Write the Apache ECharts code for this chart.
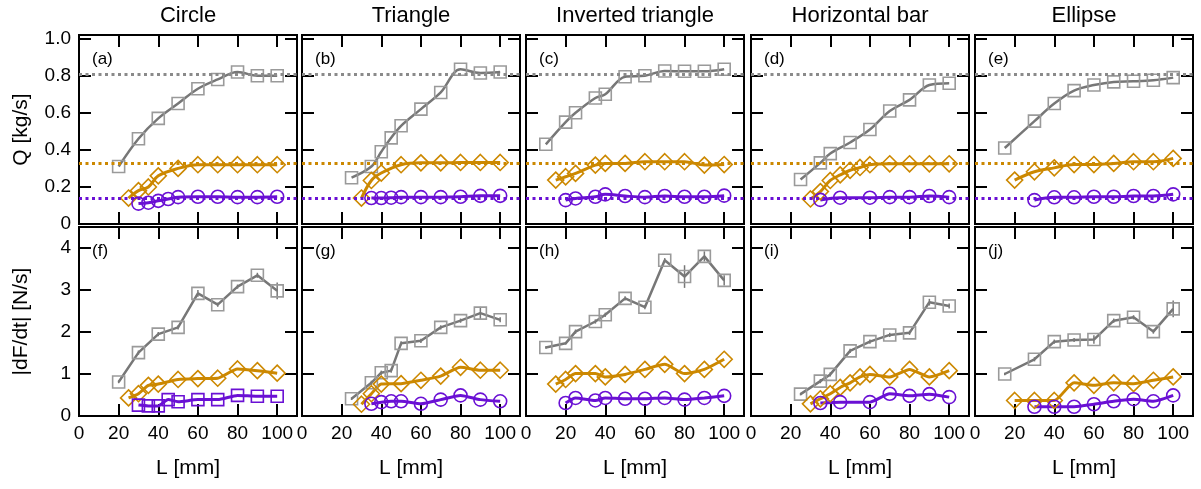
<!DOCTYPE html>
<html>
<head>
<meta charset="utf-8">
<script src="https://cdn.jsdelivr.net/npm/echarts@6/dist/echarts.min.js"></script>
<style>
  html, body { margin: 0; padding: 0; background: #fff; }
  #chart { width: 1201px; height: 489px; }
</style>
</head>
<body>
<div id="chart"></div>
<script>
// ---- data ----
var shapeNames = ["Circle", "Triangle", "Inverted triangle", "Horizontal bar", "Ellipse"];
var topTags = ["(a)", "(b)", "(c)", "(d)", "(e)"];
var bottomTags = ["(f)", "(g)", "(h)", "(i)", "(j)"];
var xTickLabels = ["0", "20", "40", "60", "80", "100"];
var qTickLabels = ["0", "0.2", "0.4", "0.6", "0.8", "1.0"];
var fTickLabels = ["0", "1", "2", "3", "4"];
// reference levels of Q (grey, orange, purple)
var qRefLevels = [0.81, 0.332, 0.145];

// Q [kg/s] vs L [mm]
var circleQGrey = [[20,0.31],[30,0.46],[40,0.57],[50,0.65],[60,0.73],[70,0.78],[80,0.82],[90,0.80],[100,0.80]];
var circleQOrange = [[25,0.14],[30,0.18],[35,0.20],[40,0.26],[50,0.30],[60,0.32],[70,0.32],[80,0.32],[90,0.32],[100,0.32]];
var circleQPurple = [[30,0.11],[35,0.115],[40,0.125],[45,0.135],[50,0.145],[60,0.147],[70,0.147],[80,0.145],[90,0.145],[100,0.147]];

var triQGrey = [[25,0.25],[35,0.31],[40,0.39],[45,0.465],[50,0.53],[60,0.62],[70,0.71],[80,0.835],[90,0.815],[100,0.82]];
var triQOrange = [[30,0.14],[35,0.235],[40,0.275],[50,0.32],[60,0.33],[70,0.33],[80,0.332],[90,0.332],[100,0.332]];
var triQPurple = [[35,0.14],[40,0.14],[45,0.142],[50,0.145],[60,0.145],[70,0.145],[80,0.147],[90,0.152],[100,0.152]];

var invQGrey = [[10,0.43],[20,0.55],[25,0.60],[35,0.68],[40,0.70],[50,0.795],[60,0.80],[70,0.826],[80,0.824],[90,0.824],[100,0.835]];
var invQOrange = [[15,0.237],[20,0.255],[25,0.273],[35,0.318],[40,0.327],[50,0.327],[60,0.336],[70,0.336],[80,0.336],[90,0.318],[100,0.321]];
var invQPurple = [[20,0.129],[25,0.138],[35,0.147],[40,0.16],[50,0.151],[60,0.145],[70,0.151],[80,0.147],[90,0.147],[100,0.153]];

var hbarQGrey = [[25,0.24],[35,0.33],[40,0.38],[50,0.44],[60,0.51],[70,0.61],[80,0.67],[90,0.75],[100,0.76]];
var hbarQOrange = [[30,0.135],[35,0.175],[40,0.235],[45,0.265],[50,0.29],[55,0.305],[60,0.32],[70,0.325],[80,0.325],[90,0.325],[100,0.325]];
var hbarQPurple = [[35,0.13],[45,0.142],[60,0.142],[70,0.145],[80,0.145],[90,0.151],[100,0.145]];

var ellQGrey = [[15,0.41],[30,0.555],[40,0.65],[50,0.72],[60,0.75],[70,0.767],[80,0.77],[90,0.776],[100,0.79]];
var ellQOrange = [[20,0.237],[30,0.282],[40,0.303],[50,0.321],[60,0.321],[70,0.327],[80,0.336],[90,0.336],[100,0.354]];
var ellQPurple = [[30,0.129],[40,0.144],[50,0.144],[60,0.147],[70,0.147],[80,0.151],[90,0.151],[100,0.16]];

// |dF/dt| [N/s] vs L [mm]
var circleFGrey = [[20,0.81],[30,1.51],[40,1.95],[50,2.11],[60,2.92],[70,2.65],[80,3.08],[90,3.35],[100,2.98]];
var circleFGreyErr = [0.03,0.05,0.05,0.05,0.08,0.05,0.05,0.06,0.2];
var circleFOrange = [[25,0.43],[30,0.53],[35,0.73],[40,0.76],[50,0.87],[60,0.89],[70,0.9],[80,1.12],[90,1.08],[100,1.02]];
var circleFPurple = [[30,0.26],[35,0.24],[40,0.24],[45,0.39],[50,0.34],[60,0.39],[70,0.39],[80,0.49],[90,0.47],[100,0.47]];

var triFGrey = [[25,0.41],[35,0.79],[40,1.03],[45,1.08],[50,1.73],[60,1.79],[70,2.11],[80,2.27],[90,2.45],[100,2.29]];
var triFGreyErr = [0.03,0.05,0.05,0.05,0.05,0.05,0.05,0.05,0.15,0.06];
var triFOrange = [[30,0.28],[35,0.53],[40,0.76],[50,0.77],[60,0.85],[70,0.95],[80,1.16],[90,1.09],[100,1.09]];
var triFPurple = [[35,0.29],[40,0.33],[45,0.35],[50,0.35],[60,0.29],[70,0.39],[80,0.49],[90,0.39],[100,0.35]];

var invFGrey = [[10,1.63],[20,1.73],[25,2.01],[35,2.25],[40,2.41],[50,2.80],[60,2.59],[70,3.71],[80,3.32],[90,3.80],[100,3.23]];
var invFGreyErr = [0.03,0.03,0.05,0.05,0.05,0.05,0.05,0.05,0.27,0.12,0.12];
var invFOrange = [[15,0.76],[20,0.87],[25,1.01],[35,1.01],[40,0.93],[50,0.99],[60,1.11],[70,1.23],[80,1.01],[90,1.11],[100,1.35]];
var invFPurple = [[20,0.31],[25,0.43],[35,0.37],[40,0.43],[50,0.41],[60,0.41],[70,0.43],[80,0.39],[90,0.43],[100,0.48]];

var hbarFGrey = [[25,0.52],[35,0.83],[40,0.99],[50,1.55],[60,1.77],[70,1.93],[80,1.98],[90,2.71],[100,2.62]];
var hbarFGreyErr = [0.03,0.05,0.05,0.05,0.05,0.05,0.05,0.08,0.06];
var hbarFOrange = [[30,0.29],[35,0.41],[40,0.53],[45,0.68],[50,0.79],[55,0.93],[60,0.99],[70,0.93],[80,1.11],[90,0.93],[100,1.08]];
var hbarFPurple = [[35,0.31],[45,0.33],[60,0.33],[70,0.53],[80,0.48],[90,0.52],[100,0.45]];

var ellFGrey = [[15,1.0],[30,1.35],[40,1.77],[50,1.81],[60,1.82],[70,2.27],[80,2.35],[90,2.01],[100,2.55]];
var ellFGreyErr = [0.03,0.05,0.05,0.05,0.1,0.05,0.05,0.05,0.2];
var ellFOrange = [[20,0.37],[30,0.37],[40,0.37],[50,0.79],[60,0.73],[70,0.79],[80,0.77],[90,0.85],[100,0.93]];
var ellFPurple = [[30,0.22],[40,0.22],[50,0.22],[60,0.28],[70,0.35],[80,0.40],[90,0.35],[100,0.49]];

// ---- layout / style ----
var FONT = "'Liberation Sans', Arial, sans-serif";
var GREY_LINE = "#777777", GREY_MARK = "#9a9a9a";
var ORANGE = "#cc8800", PURPLE = "#6a10d4";
var gridLefts = [79, 302, 526, 751, 975];
var gridWidth = 218;
var rowTops = [35, 227];
var gridHeight = 189;

var qSeries = [
  [circleQGrey, circleQOrange, circleQPurple],
  [triQGrey, triQOrange, triQPurple],
  [invQGrey, invQOrange, invQPurple],
  [hbarQGrey, hbarQOrange, hbarQPurple],
  [ellQGrey, ellQOrange, ellQPurple]
];
var fSeries = [
  [circleFGrey, circleFOrange, circleFPurple],
  [triFGrey, triFOrange, triFPurple],
  [invFGrey, invFOrange, invFPurple],
  [hbarFGrey, hbarFOrange, hbarFPurple],
  [ellFGrey, ellFOrange, ellFPurple]
];
var fErrors = [circleFGreyErr, triFGreyErr, invFGreyErr, hbarFGreyErr, ellFGreyErr];

var grids = [], xAxes = [], yAxes = [], series = [], graphics = [];

function axisCommon() {
  return {
    axisLine: { show: true, onZero: false, lineStyle: { color: "#000", width: 2 } },
    axisTick: { show: true, inside: true, length: 12, lineStyle: { color: "#000", width: 2 } },
    splitLine: { show: false }
  };
}

function lineSeries(k, data, lineColor, markColor, symbol, size, smooth, lw) {
  return {
    type: "line", xAxisIndex: 2 * k, yAxisIndex: 2 * k, data: data,
    smooth: smooth, symbol: symbol, symbolSize: size, showAllSymbol: true,
    lineStyle: { color: lineColor, width: lw },
    itemStyle: { color: "rgba(0,0,0,0)", borderColor: markColor, borderWidth: 1.6 },
    z: 3
  };
}

for (var r = 0; r < 2; r++) {
  for (var p = 0; p < 5; p++) {
    var k = r * 5 + p;
    grids.push({ left: gridLefts[p], top: rowTops[r], width: gridWidth, height: gridHeight,
      show: true, borderColor: "#000", borderWidth: 2, backgroundColor: "transparent" });

    var xb = Object.assign(axisCommon(), {
      type: "value", gridIndex: k, position: "bottom", min: 0, max: 110, interval: 20,
      axisLabel: { show: r === 1, color: "#000", fontSize: 19, fontFamily: FONT, margin: 8,
        showMaxLabel: false,
        formatter: function (v) { var i = Math.round(v / 20); return (v <= 100) ? xTickLabels[i] : ""; } }
    });
    if (r === 1) {
      xb.name = "L [mm]"; xb.nameLocation = "middle"; xb.nameGap = 42;
      xb.nameTextStyle = { color: "#000", fontSize: 21, fontFamily: FONT };
    }
    var xt = Object.assign(axisCommon(), {
      type: "value", gridIndex: k, position: "top", min: 0, max: 110, interval: 20,
      axisLabel: { show: false }
    });
    xAxes.push(xb, xt);

    var ymax = r === 0 ? 1.02 : 4.5;
    var yint = r === 0 ? 0.2 : 1;
    var labels = r === 0 ? qTickLabels : fTickLabels;
    var yl = Object.assign(axisCommon(), {
      type: "value", gridIndex: k, position: "left", min: 0, max: ymax, interval: yint,
      axisLabel: { show: p === 0, color: "#000", fontSize: 19, fontFamily: FONT, margin: 8,
        showMaxLabel: false,
        formatter: (function (lab, step) { return function (v) { var i = Math.round(v / step); return Math.abs(v - i * step) < 1e-6 && i < lab.length ? lab[i] : ""; }; })(labels, yint) }
    });
    if (p === 0) {
      yl.name = r === 0 ? "Q [kg/s]" : "|dF/dt| [N/s]";
      yl.nameLocation = "middle"; yl.nameRotate = 90; yl.nameGap = 47;
      yl.nameTextStyle = { color: "#000", fontSize: 21, fontFamily: FONT };
    }
    var yr = Object.assign(axisCommon(), {
      type: "value", gridIndex: k, position: "right", min: 0, max: ymax, interval: yint,
      axisLabel: { show: false }
    });
    yAxes.push(yl, yr);

    // panel tag
    graphics.push({ type: "text", x: gridLefts[p] + 13, y: rowTops[r] + 24, z: 10,
      style: { text: r === 0 ? topTags[p] : bottomTags[p], fill: "#000", fontSize: 17, fontFamily: FONT,
        align: "left", verticalAlign: "middle" } });

    if (r === 0) {
      var sets = qSeries[p];
      var refColors = ["#8a8a8a", ORANGE, PURPLE];
      // reference dotted levels
      for (var j = 0; j < 3; j++) {
        series.push({ type: "line", xAxisIndex: 2 * k, yAxisIndex: 2 * k, data: [], z: 1,
          markLine: { silent: true, symbol: ["none", "none"], label: { show: false },
            lineStyle: { color: refColors[j], width: 3, type: [3, 3.5] },
            data: [{ yAxis: qRefLevels[j] }] } });
      }
      series.push(lineSeries(k, sets[0], GREY_LINE, GREY_MARK, "rect", 12, 0.35, 2.5));
      series.push(lineSeries(k, sets[1], ORANGE, ORANGE, "diamond", 16, 0.35, 3));
      series.push(lineSeries(k, sets[2], PURPLE, PURPLE, "circle", 13, 0.35, 3));
    } else {
      var fs = fSeries[p];
      var errData = fs[0].map(function (pt, i) { return [pt[0], pt[1] - fErrors[p][i], pt[1] + fErrors[p][i]]; });
      series.push({ type: "custom", xAxisIndex: 2 * k, yAxisIndex: 2 * k, data: errData, z: 2,
        encode: { x: 0, y: [1, 2] },
        renderItem: function (params, api) {
          var a = api.coord([api.value(0), api.value(1)]);
          var b = api.coord([api.value(0), api.value(2)]);
          return { type: "line", shape: { x1: a[0], y1: a[1], x2: b[0], y2: b[1] },
            style: { stroke: GREY_LINE, lineWidth: 1.5 } };
        } });
      series.push(lineSeries(k, fs[0], GREY_LINE, GREY_MARK, "rect", 12, false, 2.5));
      series.push(lineSeries(k, fs[1], ORANGE, ORANGE, "diamond", 16, 0.2, 3));
      series.push(lineSeries(k, fs[2], PURPLE, PURPLE, p === 0 ? "rect" : "circle", p === 0 ? 12 : 13, 0.2, 3));
    }
  }
}
// shape titles
for (var t = 0; t < 5; t++) {
  graphics.push({ type: "text", x: gridLefts[t] + gridWidth / 2, y: 16,
    style: { text: shapeNames[t], fill: "#000", fontSize: 22, fontFamily: FONT, align: "center", verticalAlign: "middle" } });
}

var myChart = echarts.init(document.getElementById("chart"));
var option = {
  animation: false,
  backgroundColor: "#fff",
  grid: grids,
  xAxis: xAxes,
  yAxis: yAxes,
  series: series,
  graphic: graphics
};
option && myChart.setOption(option);
</script>
</body>
</html>
